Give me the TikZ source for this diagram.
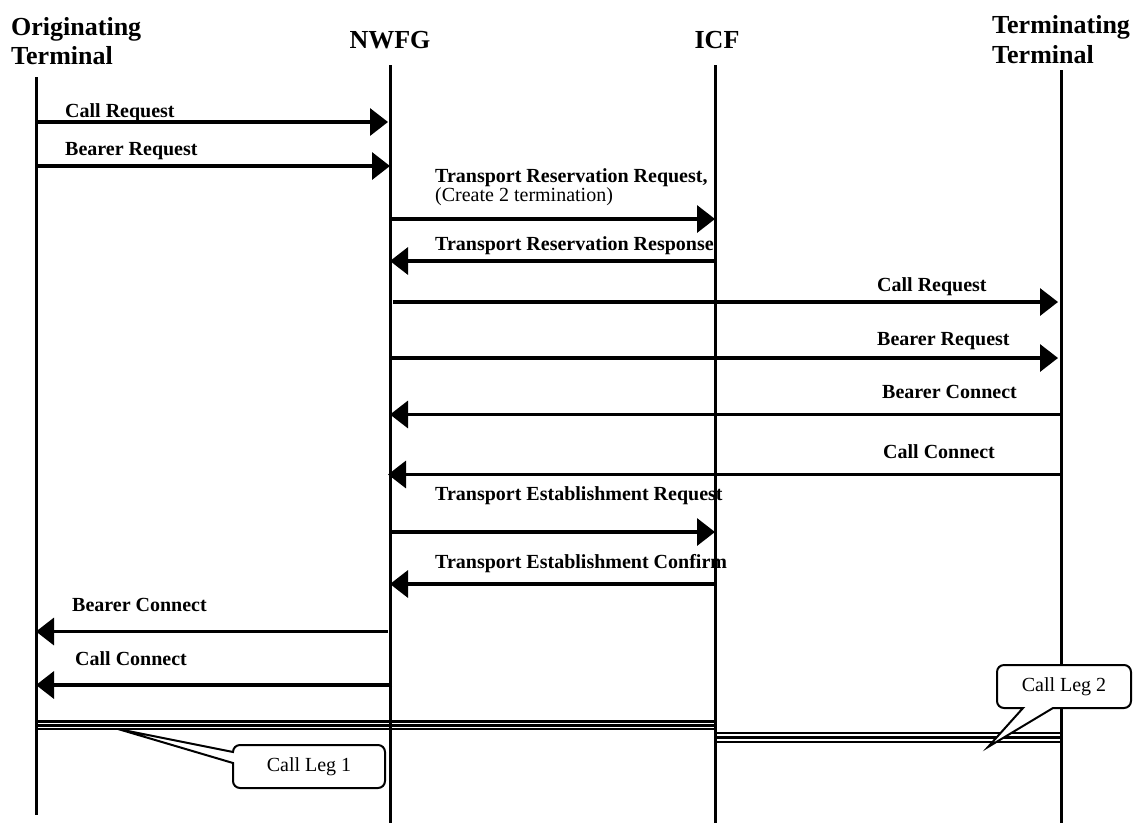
\documentclass[tikz,border=0pt]{standalone}
\usepackage{fontspec}
\setmainfont{Liberation Serif}
\usetikzlibrary{arrows.meta}

\begin{document}
\begin{tikzpicture}[x=1pt,y=-1pt,
  lifeline/.style={line width=3pt},
  msg/.style={line width=3.4pt,-{Triangle[length=18pt,width=27pt]}},
  msglabel/.style={font=\fontsize{20}{23}\selectfont\bfseries,anchor=base west,inner sep=0pt},
  notelabel/.style={font=\fontsize{20}{23}\selectfont,anchor=base west,inner sep=0pt},
  header/.style={font=\fontsize{26}{29}\selectfont\bfseries,inner sep=0pt},
  calloutbox/.style={line width=2pt,fill=white,line join=miter},
  calloutlabel/.style={font=\fontsize{20}{23}\selectfont,inner sep=0pt},
  legline/.style={line width=#1}]

\useasboundingbox (0,0) rectangle (1134,823);

% column headers
\node[header,anchor=base west] (hOT1) at (11,35) {Originating};
\node[header,anchor=base west] (hOT2) at (11,64) {Terminal};
\node[header,anchor=base] (hNW) at (390,48) {NWFG};
\node[header,anchor=base] (hIC) at (717,48) {ICF};
\node[header,anchor=base west] (hTT1) at (992,33) {Terminating};
\node[header,anchor=base west] (hTT2) at (992,63) {Terminal};

% lifeline end points
\coordinate (OTa) at (36,77);   \coordinate (OTb) at (36,815);
\coordinate (NWa) at (390,65);  \coordinate (NWb) at (390,823);
\coordinate (ICa) at (715,65);  \coordinate (ICb) at (715,823);
\coordinate (TTa) at (1061,70); \coordinate (TTb) at (1061,823);

\draw[lifeline] (OTa) -- (OTb);
\draw[lifeline] (NWa) -- (NWb);
\draw[lifeline] (ICa) -- (ICb);
\draw[lifeline] (TTa) -- (TTb);

% messages
\draw[msg] (OTa |- 0,122) -- (388,122);
\node[msglabel] (m1) at (65,117) {Call Request};

\draw[msg] (OTa |- 0,166) -- (NWa |- 0,166);
\node[msglabel] (m2) at (65,155) {Bearer Request};

\draw[msg] (NWa |- 0,219) -- (ICa |- 0,219);
\node[msglabel] (m3) at (435,182) {Transport Reservation Request,};
\node[notelabel] (m3b) at (435,201) {(Create 2 termination)};

\draw[msg] (ICa |- 0,261) -- (NWa |- 0,261);
\node[msglabel] (m4) at (435,250) {Transport Reservation Response};

\draw[msg] (393,302) -- (1058,302);
\node[msglabel] (m5) at (877,291) {Call Request};

\draw[msg] (NWa |- 0,358) -- (1058,358);
\node[msglabel] (m6) at (877,345) {Bearer Request};

\draw[msg] (TTa |- 0,414.5) -- (NWa |- 0,414.5);
\node[msglabel] (m7) at (882,398) {Bearer Connect};

\draw[msg] (TTa |- 0,474.5) -- (388,474.5);
\node[msglabel] (m8) at (883,458) {Call Connect};

\draw[msg] (NWa |- 0,532) -- (ICa |- 0,532);
\node[msglabel] (m9) at (435,500) {Transport Establishment Request};

\draw[msg] (ICa |- 0,584) -- (NWa |- 0,584);
\node[msglabel] (m10) at (435,568) {Transport Establishment Confirm};

\draw[msg] (388,631.5) -- (OTa |- 0,631.5);
\node[msglabel] (m11) at (72,611) {Bearer Connect};

\draw[msg] (392,685) -- (OTa |- 0,685);
\node[msglabel] (m12) at (75,665) {Call Connect};

% call leg 1 (originating terminal to ICF)
\coordinate (L1a) at (37,0);  \coordinate (L1b) at (717,0);
\draw[legline=2.8pt] (L1a |- 0,721.3) -- (L1b |- 0,721.3);
\draw[legline=2.8pt] (L1a |- 0,725.4) -- (L1b |- 0,725.4);
\draw[legline=1.3pt] (L1a |- 0,729)   -- (L1b |- 0,729);

% call leg 2 (ICF to terminating terminal)
\coordinate (L2a) at (717,0); \coordinate (L2b) at (1060,0);
\draw[legline=1.2pt] (L2a |- 0,733)   -- (L2b |- 0,733);
\draw[legline=3pt]   (L2a |- 0,737.6) -- (L2b |- 0,737.6);
\draw[legline=2.8pt] (L2a |- 0,742)   -- (L2b |- 0,742);

% callout for leg 1
\coordinate (c1tip) at (118,729);
\draw[calloutbox] (c1tip) -- (233,752)
  arc[start angle=180,end angle=270,radius=7] -- (378,745)
  arc[start angle=270,end angle=360,radius=7] -- (385,781)
  arc[start angle=0,end angle=90,radius=7] -- (240,788)
  arc[start angle=90,end angle=180,radius=7] -- (233,763) -- cycle;
\node[calloutlabel] (c1) at (309,767) {Call Leg 1};

% callout for leg 2
\coordinate (c2tip) at (988,747);
\draw[calloutbox] (c2tip) -- (1053,708) -- (1124,708)
  arc[start angle=90,end angle=0,radius=7] -- (1131,672)
  arc[start angle=0,end angle=-90,radius=7] -- (1004,665)
  arc[start angle=270,end angle=180,radius=7] -- (997,701)
  arc[start angle=180,end angle=90,radius=7] -- (1023,708) -- cycle;
\node[calloutlabel] (c2) at (1064,687) {Call Leg 2};

\end{tikzpicture}
\end{document}
